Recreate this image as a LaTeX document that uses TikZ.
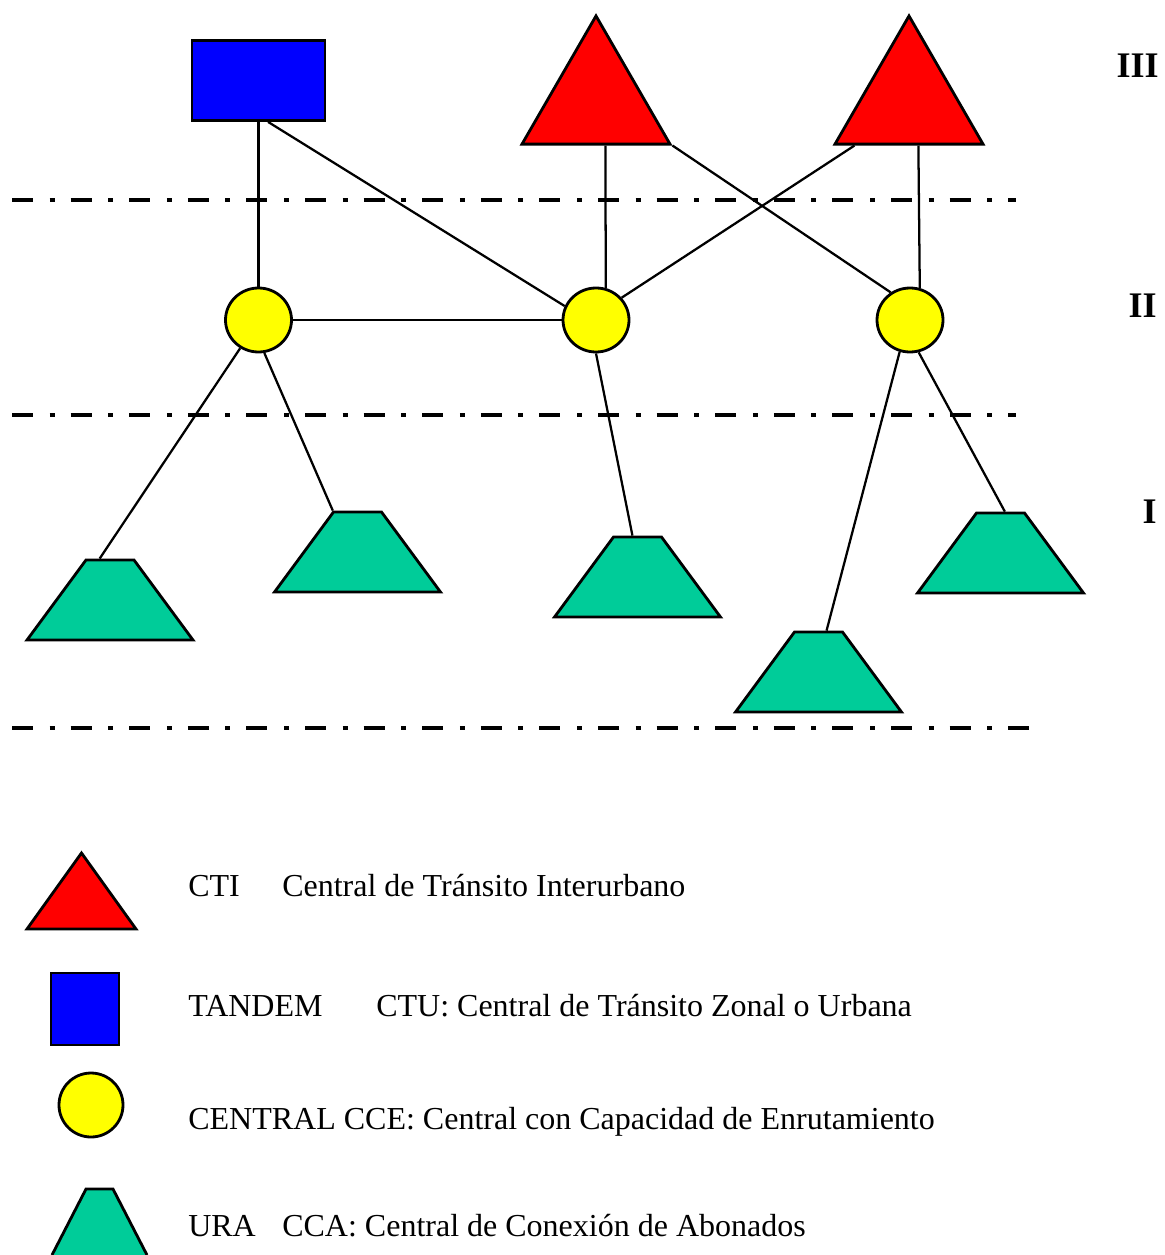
\documentclass[tikz,border=0pt]{standalone}
\usepackage{fontspec}
\setmainfont{Liberation Serif}
\usetikzlibrary{shapes.geometric}

\definecolor{ctired}{RGB}{255,0,0}
\definecolor{tandemblue}{RGB}{0,0,255}
\definecolor{cceyellow}{RGB}{255,255,0}
\definecolor{uragreen}{RGB}{0,204,153}

\begin{document}
\begin{tikzpicture}[x=0.75pt,y=-0.75pt,
	shapeline/.style={draw=black,line width=2.1pt,inner sep=0pt},
	ctibox/.style={shapeline,fill=ctired,regular polygon,regular polygon sides=3,minimum size=128.2pt},
	tandembox/.style={shapeline,fill=tandemblue,rectangle,minimum width=99.75pt,minimum height=60pt},
	ccebox/.style={shapeline,fill=cceyellow,ellipse,minimum width=49.5pt,minimum height=48pt},
	urabox/.style={shapeline,fill=uragreen,trapezium,trapezium left angle=53.6,trapezium right angle=53.6,
		inner xsep=18pt,inner ysep=30pt},
	linkline/.style={line width=1.7pt},
	levelline/.style={line width=3.7pt,dash pattern=on 15.75pt off 12.45pt on 3.75pt off 12pt},
	legtext/.style={anchor=base west,inner sep=0pt,font=\fontsize{24}{28}\selectfont},
	levtext/.style={anchor=base east,inner sep=0pt,font=\fontsize{27}{32}\selectfont\bfseries}]
	\useasboundingbox (0,0) rectangle (1164,1255);
	
	%LEVELS
	\foreach \y/\e in {200/1016,415/1016,728/1031}
		\draw[levelline] (12,\y) -- (\e,\y);
	
	%CENTRALES
	\node[tandembox] (tandem) at (258.5,80.5) {};
	\node[ctibox] (cti1) at (596,101.4) {};
	\node[ctibox] (cti2) at (909,101.4) {};
	\foreach \n/\x in {1/258.5,2/596,3/910}
		\node[ccebox] (cce\n) at (\x,320) {};
	\foreach \n/\x/\y in {1/110/600,2/357.5/552,3/637.5/577,4/818.5/672,5/1000.5/553}
		\node[urabox] (ura\n) at (\x,\y) {};
	
	%CONNECTIONS
	\draw[linkline] (tandem.south) -- (cce1.north);
	\draw[linkline] (tandem.-77) -- (cce2.156);
	\draw[linkline] (cti1.-78) -- (cce2.73);
	\draw[linkline] (cti1.corner 3) -- (cce3.125);
	\draw[linkline] (cti2.219) -- (cce2.41);
	\draw[linkline] (cti2.-78) -- (cce3.73);
	\draw[linkline] (cce1.east) -- (cce2.west);
	\draw[linkline] (cce1.237) -- (ura1.104);
	\draw[linkline] (cce1.-80) -- (ura2.top left corner);
	\draw[linkline] (cce2.south) -- (ura3.97);
	\draw[linkline] (cce3.252) -- (ura4.79);
	\draw[linkline] (cce3.-75) -- (ura5.84);
	
	%LABELS
	\node[levtext] (niv3) at (1159,78) {III};
	\node[levtext] (niv2) at (1157,317) {II};
	\node[levtext] (niv1) at (1157,523) {I};
	
	%LEGEND
	\draw[shapeline,fill=ctired] (27,929) -- (81.5,853) -- (136,929) -- cycle;
	\draw[shapeline,fill=tandemblue] (51,973) rectangle (119,1045);
	\draw[shapeline,fill=cceyellow] (91,1105) circle[radius=24pt];
	\draw[shapeline,fill=uragreen] (52,1255) -- (86,1189) -- (113,1189) -- (147,1255);
	
	\node[legtext] (cti) at (188,896) {CTI};
	\node[legtext] (ctitext) at (282,896) {Central de Tránsito Interurbano};
	\node[legtext] (tan) at (188,1016) {TANDEM};
	\node[legtext] (tantext) at (376,1016) {CTU: Central de Tránsito Zonal o Urbana};
	\node[legtext] (cen) at (188,1129) {CENTRAL CCE: Central con Capacidad de Enrutamiento};
	\node[legtext] (ura) at (188,1236) {URA};
	\node[legtext] (uratext) at (282,1236) {CCA: Central de Conexión de Abonados};
\end{tikzpicture}
\end{document}
